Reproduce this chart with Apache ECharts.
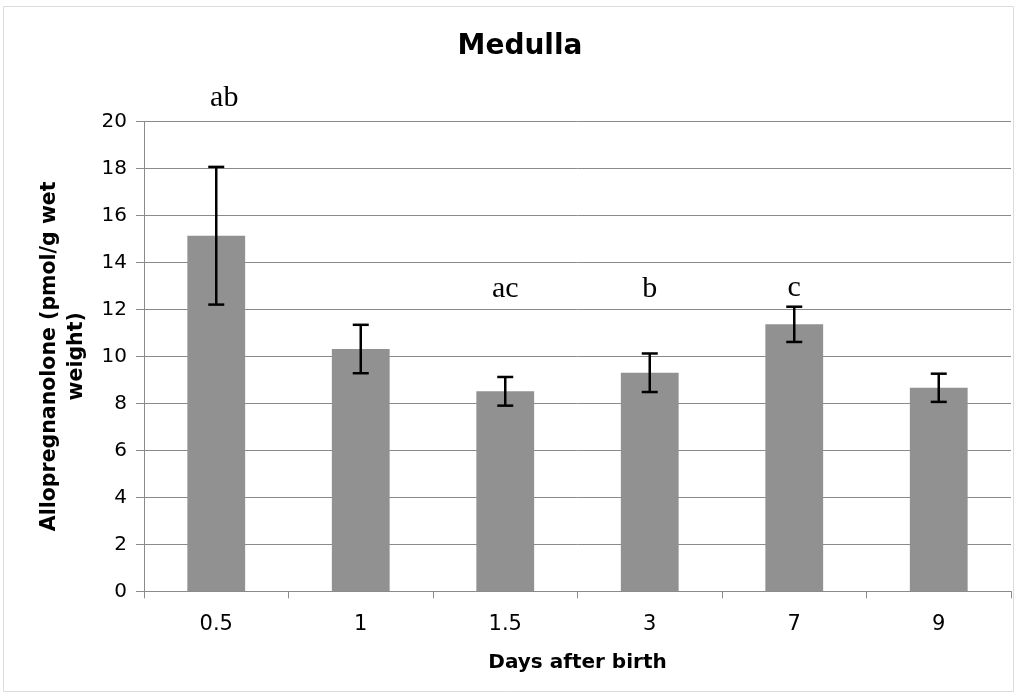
<!DOCTYPE html>
<html>
<head>
<meta charset="utf-8">
<script src="https://cdn.jsdelivr.net/npm/echarts@6/dist/echarts.min.js"></script>
<style>html,body{margin:0;padding:0;background:#fff;}#c{width:1018px;height:697px;}</style>
</head>
<body>
<div id="c"></div>
<script>
const categories = ['0.5', '1', '1.5', '3', '7', '9'];
const means = [15.13, 10.31, 8.51, 9.30, 11.36, 8.66];
const errors = [2.93, 1.03, 0.61, 0.82, 0.75, 0.60];
const letters = ['ab', '', 'ac', 'b', 'c', ''];
const letterHeights = [21.0, null, 12.85, 12.85, 12.88, null];
const yTicks = [0, 2, 4, 6, 8, 10, 12, 14, 16, 18, 20];

const chart = echarts.init(document.getElementById('c'), null, {renderer: 'canvas'});
const gridCol = '#8a8a8a';
const errData = means.map((m, i) => [i, m - errors[i], m + errors[i]]);
const letterData = [];
letters.forEach((t, i) => { if (t) letterData.push([i, letterHeights[i], t]); });

chart.setOption({
  animation: false,
  backgroundColor: '#fff',
  title: {
    text: 'Medulla', left: 515, top: 28, textAlign: 'center',
    textStyle: {fontFamily: 'DejaVu Sans', fontWeight: 'bold', fontSize: 28, color: '#000'}
  },
  graphic: [{
    type: 'rect', silent: true, z: -1,
    shape: {x: 3.5, y: 6.5, width: 1010, height: 685},
    style: {fill: 'none', stroke: '#dcdcdc', lineWidth: 1}
  }],
  grid: {left: 144, right: 7, top: 121.3, bottom: 105.7, containLabel: false},
  xAxis: {
    type: 'category', data: categories,
    name: 'Days after birth', nameLocation: 'middle', nameGap: 61,
    nameTextStyle: {fontFamily: 'DejaVu Sans', fontWeight: 'bold', fontSize: 20, color: '#000'},
    axisLine: {lineStyle: {color: gridCol, width: 1}},
    axisTick: {show: true, length: 7, lineStyle: {color: gridCol}},
    axisLabel: {fontFamily: 'DejaVu Sans', fontSize: 21, color: '#000', margin: 23}
  },
  yAxis: {
    type: 'value', min: 0, max: 20, interval: 2,
    name: 'Allopregnanolone (pmol/g wet\nweight)', nameLocation: 'middle', nameRotate: 90, nameGap: 52,
    nameTextStyle: {fontFamily: 'DejaVu Sans', fontWeight: 'bold', fontSize: 20.5, color: '#000', lineHeight: 27, align: 'center'},
    axisLine: {show: true, lineStyle: {color: gridCol, width: 1}},
    axisTick: {show: true, length: 8, lineStyle: {color: gridCol}},
    splitLine: {lineStyle: {color: gridCol, width: 1}},
    axisLabel: {
      fontFamily: 'DejaVu Sans', fontSize: 20, color: '#000', margin: 17,
      formatter: v => yTicks.includes(v) ? String(v) : ''
    }
  },
  series: [
    {
      type: 'bar', data: means, barWidth: '40%',
      itemStyle: {color: '#919191'}, z: 2
    },
    {
      type: 'custom', data: errData, z: 5, clip: false,
      renderItem: function (params, api) {
        const x = api.value(0);
        const lo = api.coord([x, api.value(1)]);
        const hi = api.coord([x, api.value(2)]);
        const hw = 8;
        const st = {stroke: '#000', lineWidth: 2.5};
        return {type: 'group', children: [
          {type: 'line', shape: {x1: lo[0], y1: lo[1], x2: hi[0], y2: hi[1]}, style: st},
          {type: 'line', shape: {x1: hi[0] - hw, y1: hi[1], x2: hi[0] + hw, y2: hi[1]}, style: st},
          {type: 'line', shape: {x1: lo[0] - hw, y1: lo[1], x2: lo[0] + hw, y2: lo[1]}, style: st}
        ]};
      }
    },
    {
      type: 'custom', data: letterData, z: 6, clip: false,
      renderItem: function (params, api) {
        const p = api.coord([api.value(0), api.value(1)]);
        const dx = params.dataIndex === 0 ? 8 : 0;
        return {type: 'text', x: p[0] + dx, y: p[1], style: {
          text: letterData[params.dataIndex][2], fill: '#000',
          font: '30px "Liberation Serif"', textAlign: 'center', textVerticalAlign: 'middle'
        }};
      }
    }
  ]
});
</script>
</body>
</html>
